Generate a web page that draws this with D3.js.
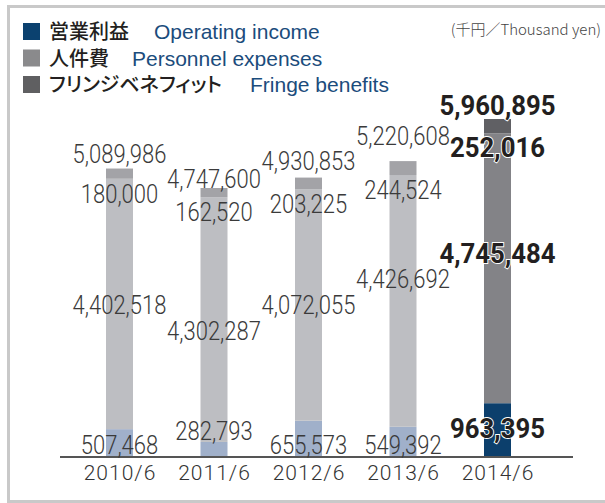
<!DOCTYPE html>
<html>
<head>
<meta charset="utf-8">
<script src="https://cdn.jsdelivr.net/npm/d3@7"></script>
<style>
  body { margin: 0; background: #fff; }
  svg { display: block; }
</style>
</head>
<body>
<svg id="chart" width="605" height="503"></svg>
<script>
// data (thousand yen)
var years = ["2010/6", "2011/6", "2012/6", "2013/6", "2014/6"];
var operatingIncome = [507468, 282793, 655573, 549392, 963395];
var personnel = [4402518, 4302287, 4072055, 4426692, 4745484];
var fringe = [180000, 162520, 203225, 244524, 252016];
var totals = [5089986, 4747600, 4930853, 5220608, 5960895];

var legendJa = ["営業利益", "人件費", "フリンジベネフィット"];
var legendEn = ["Operating income", "Personnel expenses", "Fringe benefits"];

// small label nudges so text sits like the original
var totalDy = [-6, 0, -8, -16, -4];
var persDy = [10, 20, 9, -13, -5];
var opDy = [-4, -18, -4, -4, -20];

var svg = d3.select("#chart");
var baseY = 458;

var x = d3.scalePoint().domain(years).range([119.5, 497.5]);
var y = d3.scaleLinear().domain([0, 6000000]).range([baseY, baseY - 6 * 56.87]);
var barW = 27;

var fmt = d3.format(",");
var last = years.length - 1;

var colors = {
  old: ["#a0b0ca", "#bdbec2", "#a3a3a7"],
  cur: ["#0c3f6c", "#838387", "#606064"]
};

// frame
svg.append("path")
  .attr("d", "M 640 6.5 L 8.5 6.5 L 8.5 501.5 L 640 501.5")
  .attr("fill", "none")
  .attr("stroke", "#c9c9c9")
  .attr("stroke-width", 3);

// legend
var legendColors = ["#0b416f", "#8a8a8c", "#5f5f61"];
var legendEnX = [154, 132, 250];
var leg = svg.selectAll(".leg").data(legendJa).enter().append("g")
  .attr("class", "leg")
  .attr("transform", function(d, i) { return "translate(0," + (23 + i * 26.5) + ")"; });

leg.append("rect")
  .attr("x", 23).attr("y", 0).attr("width", 17).attr("height", 17)
  .attr("fill", function(d, i) { return legendColors[i]; });

leg.append("text")
  .attr("x", 49).attr("y", 16)
  .style("font-family", "'Noto Sans CJK JP'")
  .style("font-size", "20px")
  .style("font-weight", 500)
  .style("font-feature-settings", "'palt'")
  .attr("fill", "#231f20")
  .text(function(d) { return d; });

leg.append("text")
  .attr("x", function(d, i) { return legendEnX[i]; }).attr("y", 16)
  .style("font-family", "'Liberation Sans', sans-serif")
  .style("font-size", "21px")
  .attr("fill", "#1b4c7c")
  .text(function(d, i) { return legendEn[i]; });

svg.append("text")
  .attr("x", 601).attr("y", 35)
  .attr("text-anchor", "end")
  .style("font-family", "'Noto Sans CJK JP'")
  .style("font-size", "15px")
  .style("font-weight", 300)
  .style("font-feature-settings", "'palt'")
  .attr("fill", "#444")
  .text("(千円／Thousand yen)");

// stacked bars
var segs = [];
years.forEach(function(yr, i) {
  var vals = [operatingIncome[i], personnel[i], fringe[i]];
  var y0 = 0;
  vals.forEach(function(v, k) {
    segs.push({ year: yr, i: i, k: k, y0: y0, y1: y0 + v });
    y0 += v;
  });
});

svg.selectAll(".seg").data(segs).enter().append("rect")
  .attr("class", "seg")
  .attr("x", function(d) { return x(d.year) - barW / 2; })
  .attr("y", function(d) { return y(d.y1); })
  .attr("width", barW)
  .attr("height", function(d) { return y(d.y0) - y(d.y1); })
  .attr("fill", function(d) { return d.i == last ? colors.cur[d.k] : colors.old[d.k]; });

// axis line
svg.append("line")
  .attr("x1", 60).attr("x2", 573)
  .attr("y1", 457).attr("y2", 457)
  .attr("stroke", "#555")
  .attr("stroke-width", 2);

svg.selectAll(".yr").data(years).enter().append("text")
  .attr("class", "yr")
  .attr("x", function(d) { return x(d) + 0.5; })
  .attr("y", 480)
  .attr("text-anchor", "middle")
  .style("font-family", "Roboto, 'Liberation Sans', sans-serif")
  .style("font-size", "21px")
  .style("font-weight", 300)
  .style("letter-spacing", "1px")
  .attr("fill", "#333")
  .text(function(d) { return d; });

// value labels
var labels = [];
years.forEach(function(yr, i) {
  var opTop = operatingIncome[i];
  var persTop = opTop + personnel[i];
  labels.push({ i: i, v: totals[i], y: y(totals[i]) + totalDy[i] });
  labels.push({ i: i, v: fringe[i], y: y(persTop) + 24 });
  labels.push({ i: i, v: personnel[i], y: (y(opTop) + y(persTop)) / 2 + persDy[i] });
  labels.push({ i: i, v: operatingIncome[i], y: baseY + opDy[i] });
});

var lab = svg.selectAll(".lab").data(labels).enter().append("g")
  .attr("class", "lab")
  .attr("transform", function(d) {
    var sx = d.i == last ? 0.92 : 0.88;
    return "translate(" + x(years[d.i]) + "," + d.y + ") scale(" + sx + ",1)";
  });

lab.append("text")
  .attr("text-anchor", "middle")
  .style("font-family", "Roboto, 'Liberation Sans', sans-serif")
  .style("font-size", function(d) { return d.i == last ? "28px" : "25px"; })
  .style("font-weight", function(d) { return d.i == last ? 700 : 300; })
  .style("paint-order", "stroke")
  .attr("stroke", function(d) { return d.i == last ? "#fff" : "none"; })
  .attr("stroke-width", 2)
  .attr("fill", function(d) { return d.i == last ? "#231f20" : "#3a3a3a"; })
  .text(function(d) { return fmt(d.v); });
</script>
</body>
</html>
